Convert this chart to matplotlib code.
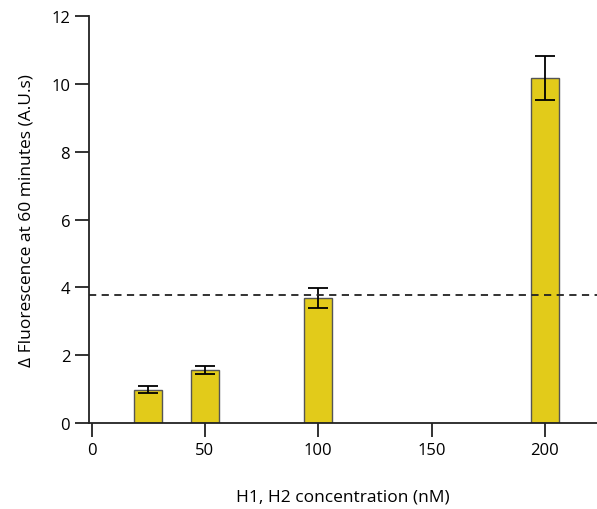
import numpy as np
import matplotlib.pyplot as plt

# data
conc = [25, 50, 100, 200]           # nM
fluor = [0.98, 1.55, 3.69, 10.18]   # delta fluorescence (A.U.s)
err = [0.10, 0.12, 0.30, 0.64]
threshold = 3.77

plt.rcParams['font.family'] = ['Open Sans', 'DejaVu Sans']

fig = plt.figure(figsize=(5.97, 5.10), dpi=100)
ax = fig.add_axes([0.149, 0.169, 0.851, 0.797])

ax.bar(conc, fluor, width=12.5, color='#e2cb1a', edgecolor='#555555', linewidth=1.0,
       yerr=err, capsize=7, error_kw=dict(ecolor='black', elinewidth=1.3, capthick=1.3))
ax.axhline(threshold, color='#222222', linestyle=(0, (4, 3)), linewidth=1.3)

ax.set_xlim(-1.2, 223)
ax.set_ylim(0, 12)
ax.set_xticks([0, 50, 100, 150, 200])
ax.set_yticks([0, 2, 4, 6, 8, 10, 12])

for s in ['top', 'right']:
    ax.spines[s].set_visible(False)
for s in ['left', 'bottom']:
    ax.spines[s].set_linewidth(1.3)
    ax.spines[s].set_color('#222222')

ax.tick_params(direction='out', length=10, width=1.3, color='#222222', labelsize=12)
ax.set_xlabel('H1, H2 concentration (nM)', fontsize=12.5, labelpad=22)
ax.set_ylabel('Δ Fluorescence at 60 minutes (A.U.s)', fontsize=12.5, labelpad=12)

fig.savefig('out.png', dpi=100)
